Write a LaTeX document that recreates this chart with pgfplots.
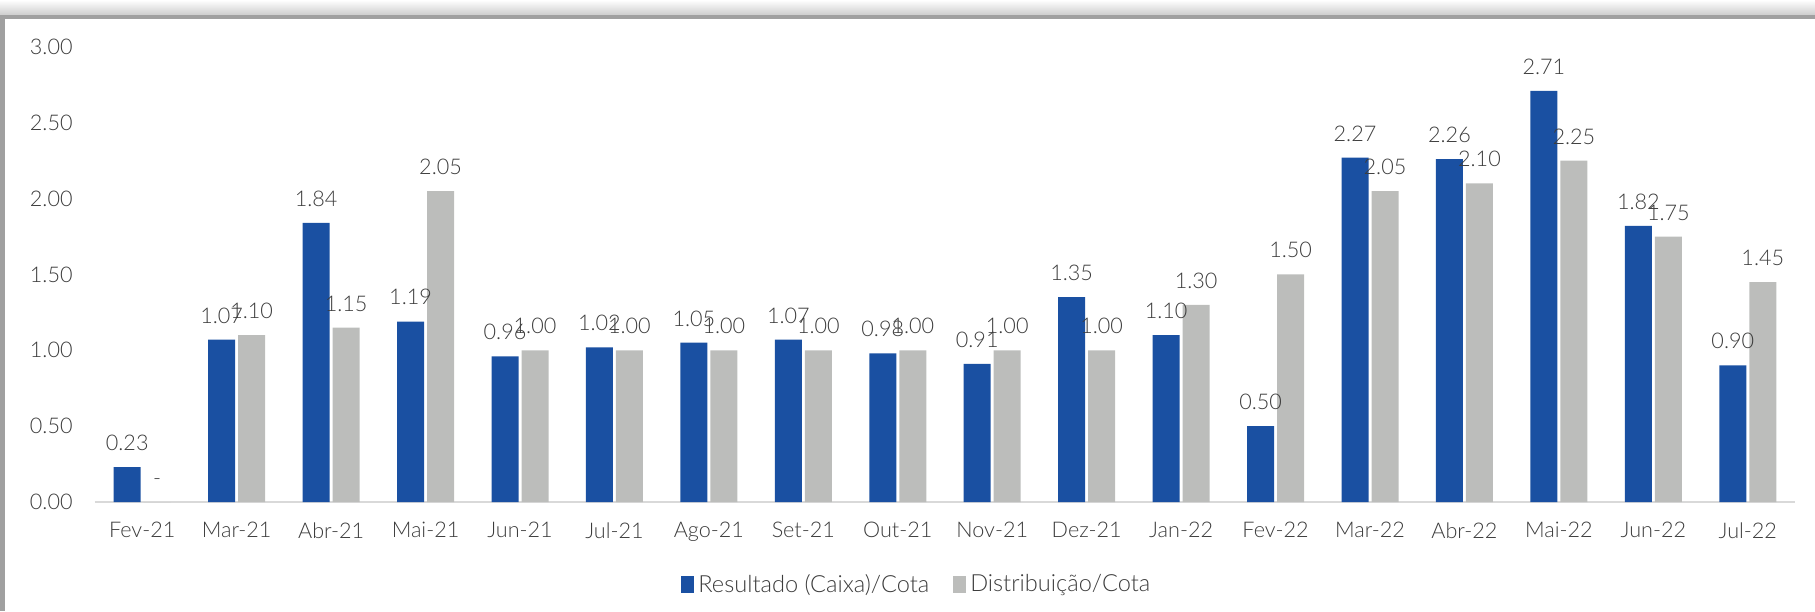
\documentclass[border=0pt]{standalone}
\usepackage{fontspec}
\setmainfont{Lato}[UprightFont={* Light}]
\usepackage{pgfplots}
\pgfplotsset{compat=1.18}
\definecolor{barblue}{RGB}{26,80,162}
\definecolor{bargray}{RGB}{188,189,187}
\definecolor{txt}{RGB}{60,60,60}
\definecolor{axisgray}{RGB}{217,217,217}
\definecolor{frame}{RGB}{160,160,160}

\begin{document}
\begin{tikzpicture}
\useasboundingbox (0,0) rectangle (907.5pt,305.5pt);
% frame (top shadow and left edge)
\shade[top color=white, bottom color=frame!60] (0,297pt) rectangle (907.5pt,305.5pt);
\fill[frame] (0,296pt) rectangle (907.5pt,298pt);
\fill[frame] (0,0) rectangle (2.5pt,298pt);

\begin{axis}[
  at={(47.5pt,54.5pt)}, anchor=south west,
  scale only axis,
  width=850pt, height=227.5pt,
  ybar=1.5pt,
  bar width=13.5pt,
  xmin=-0.5, xmax=17.5,
  ymin=0, ymax=3,
  enlargelimits=false,
  axis x line=bottom,
  axis y line=left,
  x axis line style={draw=axisgray, line width=0.8pt, -},
  y axis line style={draw=none},
  major tick length=0pt,
  xtick={0,...,17},
  xticklabels={Fev-21,Mar-21,Abr-21,Mai-21,Jun-21,Jul-21,Ago-21,Set-21,Out-21,Nov-21,Dez-21,Jan-22,Fev-22,Mar-22,Abr-22,Mai-22,Jun-22,Jul-22},
  ytick={0,0.5,...,3},
  /pgf/number format/assume math mode=true,
  yticklabel={\pgfmathprintnumber[fixed,zerofill,precision=2]{\tick}},
  ticklabel style={font=\fontsize{10.8}{12}\selectfont, text=txt},
  yticklabel style={inner sep=0pt, anchor=east, xshift=-11pt},
  xticklabel style={inner sep=0pt, anchor=north, yshift=-10pt},
  nodes near coords={\pgfmathfloatifflags{\pgfplotspointmeta}{0}{-}{\pgfmathprintnumber[fixed,zerofill,precision=2]{\pgfplotspointmeta}}},
  nodes near coords style={font=\fontsize{10.8}{12}\selectfont, text=txt, anchor=south, inner sep=0pt, yshift=8pt},
  legend style={at={(0.484,-0.182)}, anchor=center, draw=none, legend columns=2,
    font=\fontsize{11.8}{13}\selectfont, text=txt,
    /tikz/every odd column/.append style={column sep=0pt}},
  legend image code/.code={\fill[#1] (0pt,-4pt) rectangle (6.5pt,4.5pt);},
]
\addplot[fill=barblue, draw=none] coordinates {
  (0,0.23) (1,1.07) (2,1.84) (3,1.19) (4,0.96) (5,1.02) (6,1.05) (7,1.07) (8,0.98)
  (9,0.91) (10,1.35) (11,1.10) (12,0.50) (13,2.27) (14,2.26) (15,2.71) (16,1.82) (17,0.90)};
\addlegendentry{Resultado (Caixa)/Cota\rule{10pt}{0pt}}
\addplot[fill=bargray, draw=none] coordinates {
  (0,0) (1,1.10) (2,1.15) (3,2.05) (4,1.00) (5,1.00) (6,1.00) (7,1.00) (8,1.00)
  (9,1.00) (10,1.00) (11,1.30) (12,1.50) (13,2.05) (14,2.10) (15,2.25) (16,1.75) (17,1.45)};
\addlegendentry{Distribuição/Cota}
\end{axis}
\end{tikzpicture}
\end{document}
